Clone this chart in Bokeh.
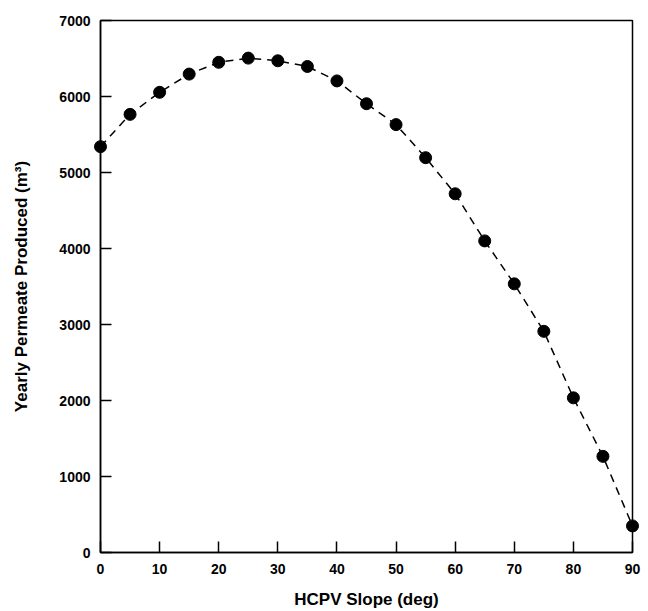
from bokeh.plotting import figure
from bokeh.models import Range1d, FixedTicker
from bokeh.embed import file_html
from bokeh.resources import INLINE

# Data
slope_deg = [0, 5, 10, 15, 20, 25, 30, 35, 40, 45, 50, 55, 60, 65, 70, 75, 80, 85, 90]
permeate_m3 = [5340, 5765, 6055, 6295, 6450, 6505, 6470, 6395, 6205, 5905, 5630, 5195, 4720,
               4100, 3535, 2910, 2035, 1265, 350]
x_ticks = [0, 10, 20, 30, 40, 50, 60, 70, 80, 90]
y_ticks = [0, 1000, 2000, 3000, 4000, 5000, 6000, 7000]

FONT = "Liberation Sans"

p = figure(width=648, height=611, output_backend="svg", toolbar_location=None,
           x_range=Range1d(0, 90), y_range=Range1d(0, 7000),
           min_border_left=100, min_border_right=16, min_border_top=20, min_border_bottom=59)

p.line(slope_deg, permeate_m3, line_color="black", line_width=1.5, line_dash="8 6", level="overlay")
p.scatter(slope_deg, permeate_m3, size=12, fill_color="black", line_color="black", level="overlay")

p.grid.visible = False
p.outline_line_color = "black"
p.outline_line_width = 1.5
p.background_fill_color = "white"
p.border_fill_color = "white"

for ax in (p.xaxis[0], p.yaxis[0]):
    ax.axis_line_color = "black"
    ax.axis_line_width = 1.5
    ax.major_tick_in = 11
    ax.major_tick_out = 0
    ax.major_tick_line_width = 1.5
    ax.major_tick_line_color = "black"
    ax.minor_tick_line_color = None
    ax.major_label_text_font = FONT
    ax.major_label_text_font_style = "bold"
    ax.major_label_text_font_size = "14px"
    ax.major_label_text_color = "black"
    ax.axis_label_text_font = FONT
    ax.axis_label_text_font_style = "bold"
    ax.axis_label_text_font_size = "17px"
    ax.axis_label_text_color = "black"

p.xaxis.ticker = FixedTicker(ticks=x_ticks)
p.yaxis.ticker = FixedTicker(ticks=y_ticks)
p.xaxis.axis_label = "HCPV Slope (deg)"
p.yaxis.axis_label = "Yearly Permeate Produced (m³)"
p.xaxis.major_label_standoff = 11
p.xaxis.axis_label_standoff = 13
p.yaxis.major_label_standoff = 10
p.yaxis.axis_label_standoff = 25

open("out.html", "w").write(file_html(p, INLINE))
